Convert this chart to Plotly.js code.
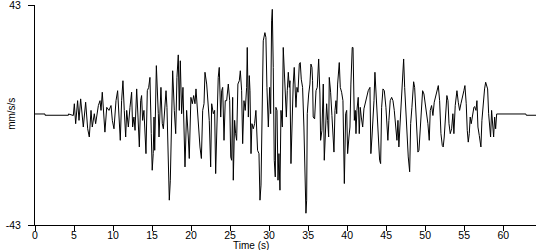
<!DOCTYPE html>
<html><head><meta charset="utf-8">
<script src="https://cdn.plot.ly/plotly-3.0.1.min.js"></script>
<style>html,body{margin:0;padding:0;background:#fff}#chart{width:550px;height:250px}</style>
</head><body><div id="chart"></div>
<script>
const timeSec = [0, 1.28, 1.29, 4.28, 4.29,
4.91, 5.04, 5.21, 5.46, 5.64, 5.85, 6.19, 6.49, 6.75, 6.96, 7.18, 7.34, 7.6, 7.77, 8.12, 8.33, 8.46, 8.62, 8.8, 8.96, 9.19, 9.48, 9.74, 9.91, 10.12,
10.38, 10.59, 10.76, 10.93, 11.1, 11.27, 11.44, 11.62, 11.75, 11.96, 12.17, 12.38, 12.51, 12.68, 12.82, 13.03, 13.2, 13.37, 13.54, 13.66, 13.79, 13.96, 14.22, 14.39, 14.57, 14.73, 14.9, 15.02, 15.15, 15.25, 15.34, 15.46, 15.55, 15.8, 15.89,
16.14, 16.31, 16.45, 16.66, 16.79, 16.91, 17.08, 17.21, 17.34, 17.46, 17.64, 17.85, 18.03, 18.19, 18.36, 18.49, 18.62, 18.79, 18.96, 19.22, 19.43, 19.64, 19.77, 19.98, 20.16, 20.33, 20.5, 20.63, 20.8, 20.97, 21.14, 21.32, 21.49, 21.66, 21.78,
22.0, 22.21, 22.33, 22.51, 22.64, 22.85, 23.02, 23.15, 23.32, 23.48, 23.61, 23.8, 23.92, 24.05, 24.22, 24.38, 24.56, 24.77, 24.95, 25.08, 25.2, 25.33, 25.41, 25.58, 25.71, 25.84, 26.0, 26.18, 26.31, 26.48, 26.61, 26.78, 26.94, 27.12, 27.2, 27.34, 27.46,
27.55, 27.68, 27.8, 27.97, 28.14, 28.31, 28.52, 28.7, 28.83, 28.96, 29.08, 29.25, 29.46, 29.59, 29.72, 29.9, 30.07, 30.2, 30.32, 30.41, 30.53, 30.66, 30.79, 30.87, 31.01, 31.14, 31.26, 31.39, 31.52, 31.69, 31.81, 31.94, 32.07, 32.21, 32.33, 32.46, 32.59, 32.67, 32.8, 32.97, 33.09, 33.22,
33.35, 33.44, 33.57, 33.7, 33.87, 33.99, 34.12, 34.29, 34.46, 34.6, 34.72, 34.81, 34.89, 35.07, 35.23, 35.36, 35.49, 35.57, 35.65, 35.83, 36.01, 36.17, 36.35, 36.51, 36.6, 36.77, 36.94, 37.07, 37.25, 37.37, 37.5, 37.63, 37.71, 37.88, 38.05, 38.22, 38.31, 38.44, 38.57, 38.66, 38.78, 38.99,
39.12, 39.29, 39.46, 39.64, 39.81, 39.94, 40.06, 40.23, 40.36, 40.48, 40.65, 40.75, 40.83, 40.92, 41.04, 41.13, 41.25, 41.42, 41.55, 41.68, 41.81, 41.99, 42.15, 42.32, 42.49, 42.7, 42.92, 43.04, 43.18, 43.31, 43.44, 43.56, 43.73, 43.86, 43.98, 44.16, 44.29, 44.42, 44.59, 44.76,
44.97, 45.1, 45.22, 45.35, 45.52, 45.7, 45.87, 46.04, 46.21, 46.38, 46.51, 46.63, 46.76, 46.94, 47.11, 47.24, 47.37, 47.49, 47.66, 47.83, 48.01, 48.14, 48.3, 48.52, 48.65, 48.77, 48.9, 49.07, 49.2, 49.33, 49.5, 49.67, 49.84, 50.0, 50.18, 50.35, 50.52,
50.65, 50.82, 50.99, 51.16, 51.33, 51.5, 51.68, 51.85, 52.02, 52.19, 52.31, 52.44, 52.61, 52.78, 52.92, 53.05, 53.21, 53.39, 53.55, 53.68, 53.85, 54.07, 54.24, 54.41, 54.58, 54.8, 54.96, 55.09, 55.26, 55.39, 55.52, 55.65, 55.77, 55.9, 56.08, 56.24,
56.33, 56.51, 56.63, 56.76, 56.93, 57.14, 57.27, 57.44, 57.61, 57.75, 57.88, 58.0, 58.13, 58.26, 58.38, 58.51, 58.64, 58.77, 58.9, 59.03, 59.16, 62.9, 62.95, 64.2];

const accel = [0.4, 0.4, -0.1, -0.1, 0.4,
-0.2, 4.4, -3.4, 5.6, -2.1, 6.3, -4.7, 5.0, -5.4, -8.6, 1.8, -4.7, 0.5, -3.4, 3.7, 5.6, 1.8, 8.9, 1.1, -6.7, 3.0, 1.8, 3.7, -2.1, -5.4,
5.6, 9.5, -3.4, -9.9, 5.6, 13.4, 1.8, -8.6, 1.8, -4.7, 3.0, 8.9, -4.7, -0.8, -6.0, 10.2, -0.8, -12.5, 5.6, 7.6, -2.1, 1.8, -15.1, 9.5, 10.8, 14.7, -7.3, -21.6, -15.1, -0.8, -13.8, 13.4, 19.3, 0.5, -8.6,
10.8, -3.4, -5.4, 6.9, 9.5, 3.0, -22.9, -33.3, -25.5, -3.4, 17.3, 1.8, -7.3, 14.7, 23.5, 1.8, 21.2, 0.5, 10.8, -20.3, 1.8, -8.6, -17.0, 6.9, 4.4, 7.6, 4.4, 10.2, 1.8, -8.6, -12.5, -17.0, 1.8, 4.4, 16.7,
12.1, 1.8, -2.1, -20.3, 4.4, 0.5, 1.8, -22.9, -3.4, 14.7, 18.6, -0.8, 9.5, 10.8, -9.9, 5.6, 5.6, 12.1, 5.6, -16.4, -17.7, 6.9, -25.5, -2.1, -7.3, -9.9, 12.1, 13.4, 17.3, 9.5, -11.2, 5.6, 1.8, 10.8, 26.4, -0.8, 15.4,
9.5, -15.1, -3.4, -5.4, -3.4, 1.8, -13.8, -15.1, -33.3, -27.4, 5.6, 29.0, 32.2, 30.3, 10.8, -4.7, 10.8, 0.5, 36.8, 41.3, 18.6, -17.7, -24.2, 3.0, 1.8, -25.5, -15.1, -29.4, 1.8, -4.7, 26.4, 18.6, 9.5, -0.8, 9.5, 16.7, 10.8, 13.4, -19.0, 1.8, 12.1, 18.6,
12.1, 3.0, 10.8, 8.9, 19.9, 20.5, 14.0, 10.8, -4.7, -28.1, -38.4, -33.3, 0.5, 8.2, 12.1, 19.9, 18.6, 13.4, -0.8, -1.5, 9.5, 10.8, 21.9, 8.2, -9.9, -6.0, 12.1, -17.7, -4.7, 4.4, -2.1, -8.6, 14.7, 8.9, -0.2, -11.2, -14.5, 1.8, 5.6, 0.5, 12.1, 20.5,
10.8, 8.9, 5.6, -26.8, 0.5, 1.8, -15.1, -8.6, -4.7, 12.1, 26.4, 26.4, 8.2, -2.1, 1.8, -7.3, 1.8, 6.9, -7.3, 3.0, -0.8, -4.7, 2.4, 4.4, 6.9, 9.5, 10.8, -15.1, -8.6, -3.4, 5.6, 16.7, 5.6, 1.8, -9.9, -17.7, -19.0, 3.0, 10.2, 9.5,
3.0, -4.7, -9.9, -2.1, 5.6, 6.9, 5.6, 1.8, -6.0, -9.9, -2.1, -12.5, -4.7, 6.9, 17.3, 21.9, 10.8, 1.8, -8.6, -16.4, -22.2, -3.4, 3.0, 13.0, 10.8, 1.8, -7.3, -14.5, -13.8, -6.0, 4.4, 9.5, 8.2, 4.4, 1.8, -3.4, -9.9,
1.8, 3.7, -0.2, 5.0, 7.6, 10.2, 11.5, 5.6, -7.3, -11.9, -12.5, -8.6, 1.8, 7.6, 5.6, -3.4, -7.3, -5.4, 0.5, -7.3, 3.7, 9.5, 5.0, 1.8, 4.4, 6.9, 9.5, 11.5, 4.4, -6.0, -10.6, -7.3, -0.8, -3.4, 0.5, 3.0,
3.3, 1.8, 5.6, -4.7, -8.0, -12.5, -2.1, 5.0, 10.2, 12.8, 11.5, 10.2, 0.5, -6.7, -8.6, 1.8, -6.0, -8.6, -0.8, -5.4, 0.4, 0.4, -0.1, -0.1];

const xTickVals = [0, 5, 10, 15, 20, 25, 30, 35, 40, 45, 50, 55, 60];
const yTickVals = [-43, 43];
const yTickText = ['-43', '43'];
const xTitleText = 'Time (s)';
const yTitleText = 'mm/s/s';

const fontFam = 'Arial, "Liberation Sans", sans-serif';

Plotly.newPlot('chart', [{
  x: timeSec, y: accel, type: 'scatter', mode: 'lines',
  line: {color: '#000000', width: 1}, hoverinfo: 'skip'
}], {
  width: 550, height: 250,
  margin: {l: 35, r: 14, t: 5, b: 25, pad: 0},
  paper_bgcolor: '#ffffff', plot_bgcolor: '#ffffff',
  font: {family: fontFam, size: 10, color: '#000000'},
  showlegend: false,
  xaxis: {
    range: [0, 64.2], tickmode: 'array', tickvals: xTickVals,
    ticks: 'outside', ticklen: 5, tickwidth: 1, tickcolor: '#000000',
    ticklabelstandoff: -5,
    showline: true, linecolor: '#000000', linewidth: 1,
    showgrid: false, zeroline: false, automargin: false,
    tickfont: {family: fontFam, size: 10.5, color: '#000000'}
  },
  yaxis: {
    range: [-43.001, 43.001], tickmode: 'array', tickvals: yTickVals, ticktext: yTickText,
    ticks: 'outside', ticklen: 6, tickwidth: 1, tickcolor: '#000000',
    ticklabelstandoff: 5, ticklabeloverflow: 'allow',
    showline: true, linecolor: '#000000', linewidth: 1,
    showgrid: false, zeroline: false, automargin: false,
    tickfont: {family: fontFam, size: 10.5, color: '#000000'}
  },
  annotations: [
    {text: xTitleText, xref: 'paper', yref: 'paper', x: 0.431, y: -0.093,
     xanchor: 'center', yanchor: 'middle', showarrow: false,
     font: {family: fontFam, size: 10, color: '#000000'}},
    {text: yTitleText, xref: 'paper', yref: 'paper', x: -0.046, y: 0.505,
     xanchor: 'center', yanchor: 'middle', showarrow: false, textangle: -90,
     font: {family: fontFam, size: 10, color: '#000000'}}
  ]
}, {staticPlot: true, displayModeBar: false});
</script>
</body></html>
